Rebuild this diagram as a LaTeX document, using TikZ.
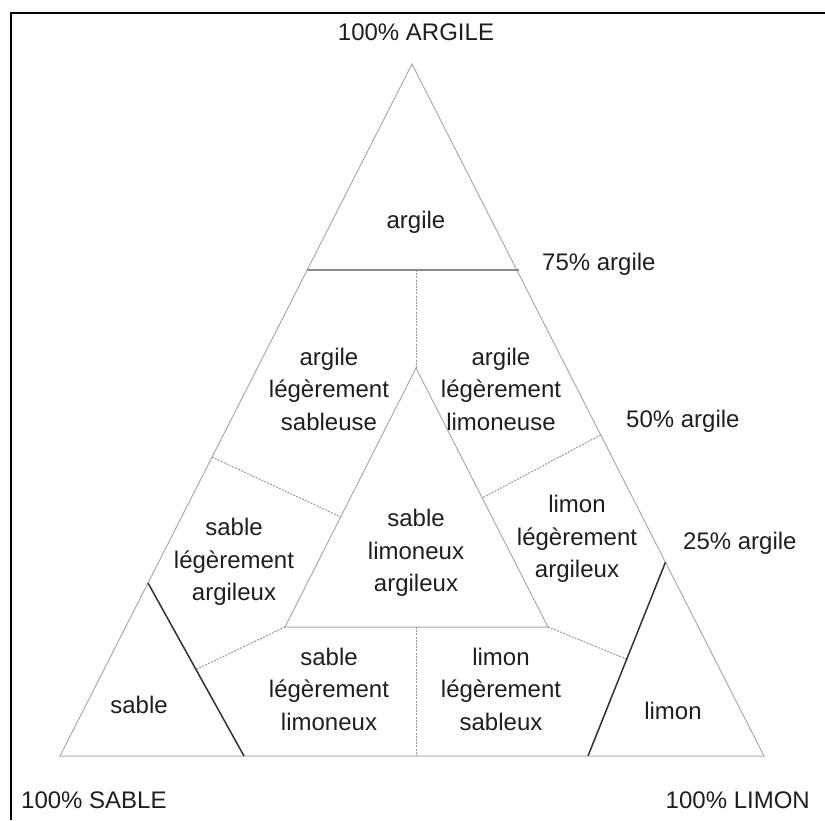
\documentclass[tikz,border=0pt]{standalone}
\usepackage{fontspec}
\setmainfont{Liberation Sans}
\usetikzlibrary{calc}
\definecolor{edgegray}{HTML}{ABABAB}
\definecolor{midgray}{HTML}{8A8A8A}
\definecolor{dashgray}{HTML}{9A9A9A}
\definecolor{darkline}{HTML}{303030}
\definecolor{txt}{HTML}{1E1E1E}
\tikzset{
  edge/.style={draw=edgegray, line width=1pt},
  thickgray/.style={draw=midgray, line width=2.4pt},
  dashline/.style={draw=dashgray, line width=1pt, dash pattern=on 2pt off 1.2pt},
  darkedge/.style={draw=darkline, line width=1.5pt},
  frame/.style={draw=black, line width=2pt},
  lbl/.style={font=\fontsize{24}{32.5}\selectfont, text=txt, align=center, inner sep=0pt},
}
\begin{document}
\begin{tikzpicture}[x=1pt,y=-1pt]
\useasboundingbox (0,0) rectangle (825,820);
% frame (left and top visible)
\draw[frame] (10.5,820) -- (10.5,13) -- (825,13);
% main triangle
\coordinate (A) at (412,64);
\coordinate (L) at (60,756);
\coordinate (R) at (764,756);
\coordinate (A75L) at ($(A)!0.2977!(L)$);
\coordinate (A75R) at ($(A)!0.2977!(R)+(2,0)$);
\coordinate (V1) at (416,270);
\coordinate (I) at (416,368);
\coordinate (IL) at (285,627);
\coordinate (IR) at (548,627);
\coordinate (V2) at (416,627);
\coordinate (V3) at (416,756);
\coordinate (S1) at ($(A)!0.75!(L)$);
\coordinate (S2) at (244,756);
\coordinate (M1) at ($(A)!0.72!(R)$);
\coordinate (M2) at (588,756);
\coordinate (P50L) at ($(A)!0.568!(L)$);
\coordinate (Q50L) at ($(I)!0.575!(IL)$);
\coordinate (P50R) at ($(A)!0.536!(R)$);
\coordinate (Q50R) at ($(I)!0.502!(IR)$);
\coordinate (SM) at ($(S1)!0.5!(S2)$);
\coordinate (MM) at ($(M1)!0.5!(M2)$);

\draw[edge] (A) -- (L) -- (R) -- cycle;
\draw[edge] (I) -- (IL) -- (IR) -- cycle;
\draw[thickgray] (A75L) -- (A75R);
\draw[dashline] (V1) -- (I);
\draw[dashline] (V2) -- (V3);
\draw[dashline] (P50L) -- (Q50L);
\draw[dashline] (IL) -- (SM);
\draw[dashline] (P50R) -- (Q50R);
\draw[dashline] (IR) -- (MM);
\draw[darkedge] (S1) -- (S2);
\draw[darkedge] (M1) -- (M2);

% outer labels
\node[lbl, anchor=base] (tA) at (416,40) {100\% ARGILE};
\node[lbl, anchor=base west] (t75) at (542,270) {75\% argile};
\node[lbl, anchor=base west] (t50) at (626,427) {50\% argile};
\node[lbl, anchor=base west] (t25) at (683,549) {25\% argile};
\node[lbl, anchor=base west] (tS) at (21,808) {100\% SABLE};
\node[lbl, anchor=base east] (tL) at (810,808) {100\% LIMON};

% region labels
\node[lbl] (rA) at (416,222) {argile};
\node[lbl] (rALS) at (329,389) {argile\\légèrement\\sableuse};
\node[lbl] (rALL) at (501,389) {argile\\légèrement\\limoneuse};
\node[lbl] (rSLA) at (234,562) {sable\\légèrement\\argileux};
\node[lbl] (rSLAx) at (416,553) {sable\\limoneux\\argileux};
\node[lbl] (rLLA) at (577,539) {limon\\légèrement\\argileux};
\node[lbl] (rS) at (139,705) {sable};
\node[lbl] (rSLL) at (329,689) {sable\\légèrement\\limoneux};
\node[lbl] (rLLS) at (501,689) {limon\\légèrement\\sableux};
\node[lbl] (rL) at (673,711) {limon};
\end{tikzpicture}
\end{document}
